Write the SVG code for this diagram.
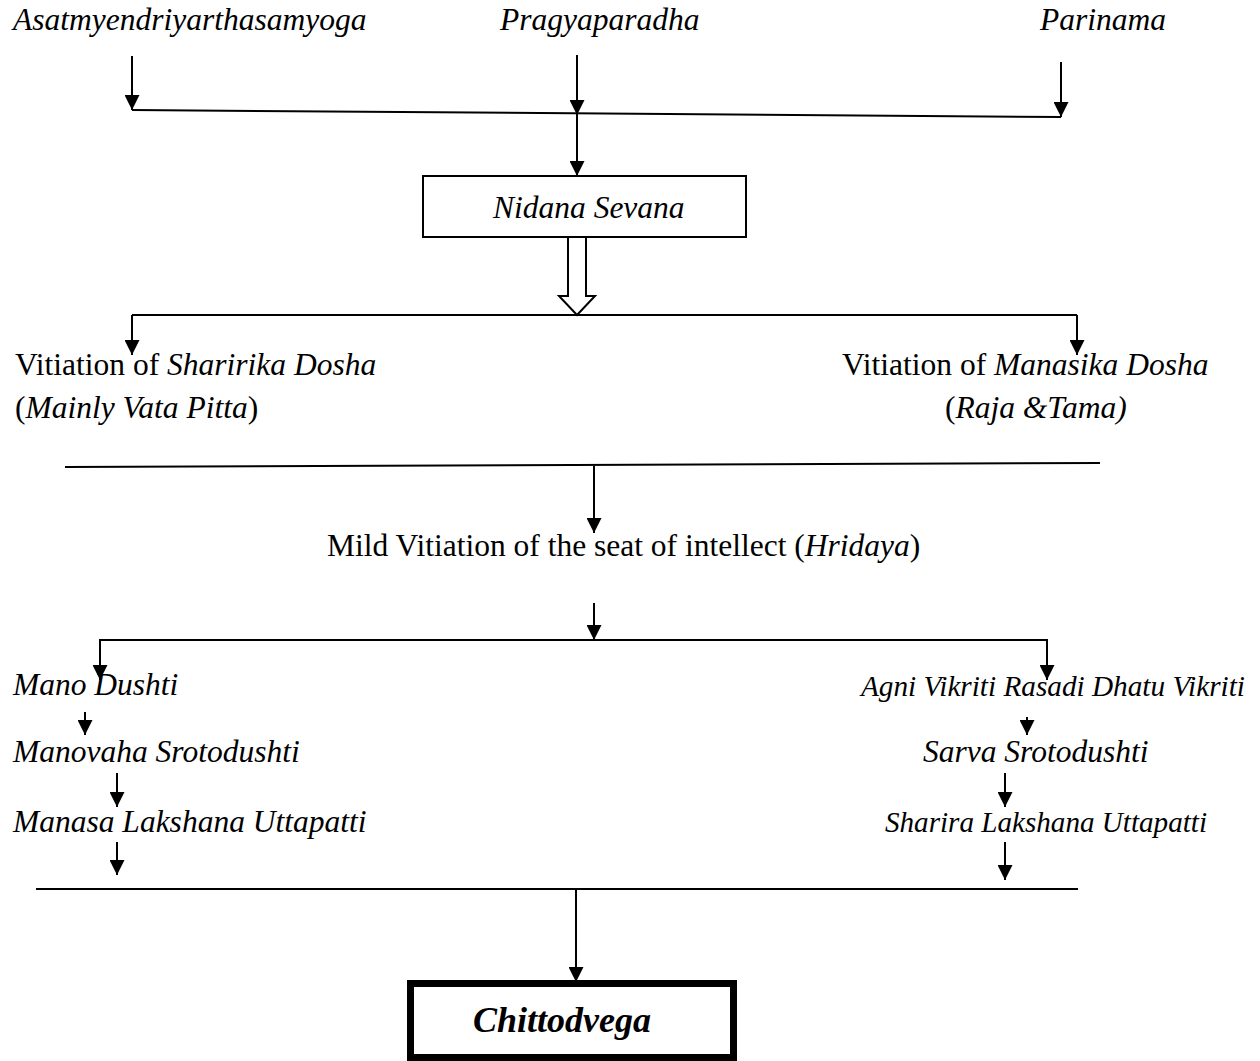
<svg xmlns="http://www.w3.org/2000/svg" width="1260" height="1061" viewBox="0 0 1260 1061">
<style>
text{font-family:"Liberation Serif","Times New Roman",serif;font-size:31.5px;fill:#000}
.i{font-style:italic}
.sm{font-size:29px}
.big{font-size:36px;font-weight:bold}
.ln{stroke:#000;stroke-width:2;fill:none}
.ar{stroke:#000;stroke-width:2;fill:none;marker-end:url(#ah)}
</style>
<defs>
<marker id="ah" markerUnits="userSpaceOnUse" markerWidth="15" markerHeight="15" refX="15" refY="7.5" orient="auto" viewBox="0 0 15 15">
<path d="M0,0 L15,7.5 L0,15 z" fill="#000"/>
</marker>
</defs>
<rect width="1260" height="1061" fill="#fff"/>
<g id="n-asat"><text class="i" x="13" y="30">Asatmyendriyarthasamyoga</text></g>
<g id="n-pragya"><text class="i" x="500" y="30">Pragyaparadha</text></g>
<g id="n-parinama"><text class="i" x="1040" y="30">Parinama</text></g>
<g id="n-nidana"><rect x="423" y="176" width="323" height="61" fill="#fff" stroke="#000" stroke-width="2"/><text class="i" x="493" y="218">Nidana Sevana</text></g>
<g id="n-sharirika"><text x="15" y="375">Vitiation of <tspan class="i">Sharirika Dosha</tspan></text><text x="15" y="418">(<tspan class="i">Mainly Vata Pitta</tspan>)</text></g>
<g id="n-manasika"><text x="842" y="375">Vitiation of <tspan class="i">Manasika Dosha</tspan></text><text x="945" y="418">(<tspan class="i">Raja &amp;Tama)</tspan></text></g>
<g id="n-mild"><text x="327" y="556">Mild Vitiation of the seat of intellect (<tspan class="i">Hridaya</tspan>)</text></g>
<g id="n-mano"><text class="i" x="13" y="695">Mano Dushti</text></g>
<g id="n-manovaha"><text class="i" x="13" y="762">Manovaha Srotodushti</text></g>
<g id="n-manasa"><text class="i" x="13" y="832">Manasa Lakshana Uttapatti</text></g>
<g id="n-agni"><text class="i sm" x="861" y="696" textLength="384" lengthAdjust="spacingAndGlyphs">Agni Vikriti Rasadi Dhatu Vikriti</text></g>
<g id="n-sarva"><text class="i" x="923" y="762">Sarva Srotodushti</text></g>
<g id="n-sharira"><text class="i sm" x="885" y="832" textLength="322" lengthAdjust="spacingAndGlyphs">Sharira Lakshana Uttapatti</text></g>
<g id="n-chitto"><rect x="410.5" y="983.5" width="323" height="74" fill="#fff" stroke="#000" stroke-width="7"/><text class="i big" x="562" y="1032" text-anchor="middle">Chittodvega</text></g>
<g id="connectors">
<line class="ar" x1="132" y1="56" x2="132" y2="110"/>
<line class="ar" x1="577" y1="55" x2="577" y2="115"/>
<line class="ar" x1="1061" y1="62" x2="1061" y2="117"/>
<line class="ln" x1="132" y1="110" x2="1061" y2="117"/>
<line class="ar" x1="577" y1="115" x2="577" y2="176"/>
<path d="M568,237 L586,237 L586,296 L595,296 L577,315 L559,296 L568,296 Z" fill="#fff" stroke="#000" stroke-width="2"/>
<line class="ln" x1="132" y1="315" x2="1077" y2="315"/>
<line class="ar" x1="132" y1="315" x2="132" y2="355"/>
<line class="ar" x1="1077" y1="315" x2="1077" y2="355"/>
<line class="ln" x1="65" y1="467" x2="1100" y2="463"/>
<line class="ar" x1="594" y1="466" x2="594" y2="533"/>
<line class="ar" x1="594" y1="603" x2="594" y2="640"/>
<path class="ln" d="M100,680 L100,640 L1047,640 L1047,680"/>
<line class="ar" x1="100" y1="640" x2="100" y2="680"/>
<line class="ar" x1="1047" y1="640" x2="1047" y2="680"/>
<line class="ar" x1="85" y1="712" x2="85" y2="735"/>
<line class="ar" x1="117" y1="773" x2="117" y2="807"/>
<line class="ar" x1="117" y1="842" x2="117" y2="875"/>
<line class="ar" x1="1027" y1="717" x2="1027" y2="735"/>
<line class="ar" x1="1005" y1="773" x2="1005" y2="807"/>
<line class="ar" x1="1005" y1="842" x2="1005" y2="880"/>
<line class="ln" x1="36" y1="889" x2="1078" y2="889"/>
<line class="ar" x1="576" y1="889" x2="576" y2="982"/>
</g>
</svg>
